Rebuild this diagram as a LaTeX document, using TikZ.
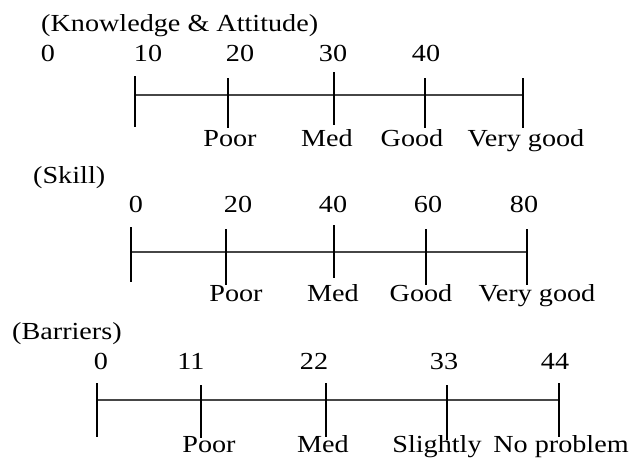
\documentclass[tikz,border=0pt]{standalone}
\usepackage{fontspec}
\setmainfont{Liberation Serif}[FakeStretch=1.15]
\usetikzlibrary{positioning}
\definecolor{scaleline}{RGB}{70,70,70}

\begin{document}
\begin{tikzpicture}[x=1pt, y=-1pt,
  font=\fontsize{24.5}{28}\selectfont,
  txt/.style={anchor=base, inner sep=0pt},
  heading/.style={anchor=base west, inner sep=0pt},
  axisline/.style={draw=scaleline, line width=1.3pt},
  tickline/.style={draw=black, line width=1.1pt}
]
\useasboundingbox (0,0) rectangle (629,458);

% Knowledge & Attitude: scores 10--50
\node[heading] (kaTitle) at (41,31) {(Knowledge \& Attitude)};
\node[txt] (ka0)  at (48,61)  {0};
\node[txt] (ka10) at (148,61) {10};
\node[txt] (ka20) at (240,61) {20};
\node[txt] (ka30) at (333,61) {30};
\node[txt] (ka40) at (426,61) {40};
\draw[axisline] (135,95) -- (523,95);
\draw[tickline] (135,76) -- (135,127);
\draw[tickline] (228,78) -- (228,128);
\draw[tickline] (334,72) -- (334,125);
\draw[tickline] (425,78) -- (425,128);
\draw[tickline] (523,78) -- (523,128);
\node[txt] (kaPoor) at (230,146) {Poor};
\node[txt] (kaMed)  at (327,146) {Med};
\node[txt] (kaGood) at (412,146) {Good};
\node[txt] (kaVery) at (526,146) {Very good};

% Skill: scores 0--80
\node[heading] (skTitle) at (33,183) {(Skill)};
\node[txt] (sk0)  at (136,212) {0};
\node[txt] (sk20) at (238,212) {20};
\node[txt] (sk40) at (333,212) {40};
\node[txt] (sk60) at (428,212) {60};
\node[txt] (sk80) at (524,212) {80};
\draw[axisline] (131,252) -- (527,252);
\draw[tickline] (131,227) -- (131,282);
\draw[tickline] (226,229) -- (226,285);
\draw[tickline] (334,225) -- (334,278);
\draw[tickline] (426,229) -- (426,285);
\draw[tickline] (527,229) -- (527,285);
\node[txt] (skPoor) at (236,301) {Poor};
\node[txt] (skMed)  at (333,301) {Med};
\node[txt] (skGood) at (421,301) {Good};
\node[txt] (skVery) at (537,301) {Very good};

% Barriers: scores 0--44
\node[heading] (brTitle) at (12,339) {(Barriers)};
\node[txt] (br0)  at (101,369) {0};
\node[txt] (br11) at (191,369) {11};
\node[txt] (br22) at (314,369) {22};
\node[txt] (br33) at (444,369) {33};
\node[txt] (br44) at (555,369) {44};
\draw[axisline] (97,400) -- (559,400);
\draw[tickline] (97,383) -- (97,437);
\draw[tickline] (201,385) -- (201,438);
\draw[tickline] (326,383) -- (326,437);
\draw[tickline] (447,385) -- (447,440);
\draw[tickline] (559,383) -- (559,437);
\node[txt] (brPoor)  at (209,452) {Poor};
\node[txt] (brMed)   at (323,452) {Med};
\node[txt] (brSlight) at (437,452) {Slightly};
\node[txt] (brNone)  at (561,452) {No problem};

\end{tikzpicture}
\end{document}
